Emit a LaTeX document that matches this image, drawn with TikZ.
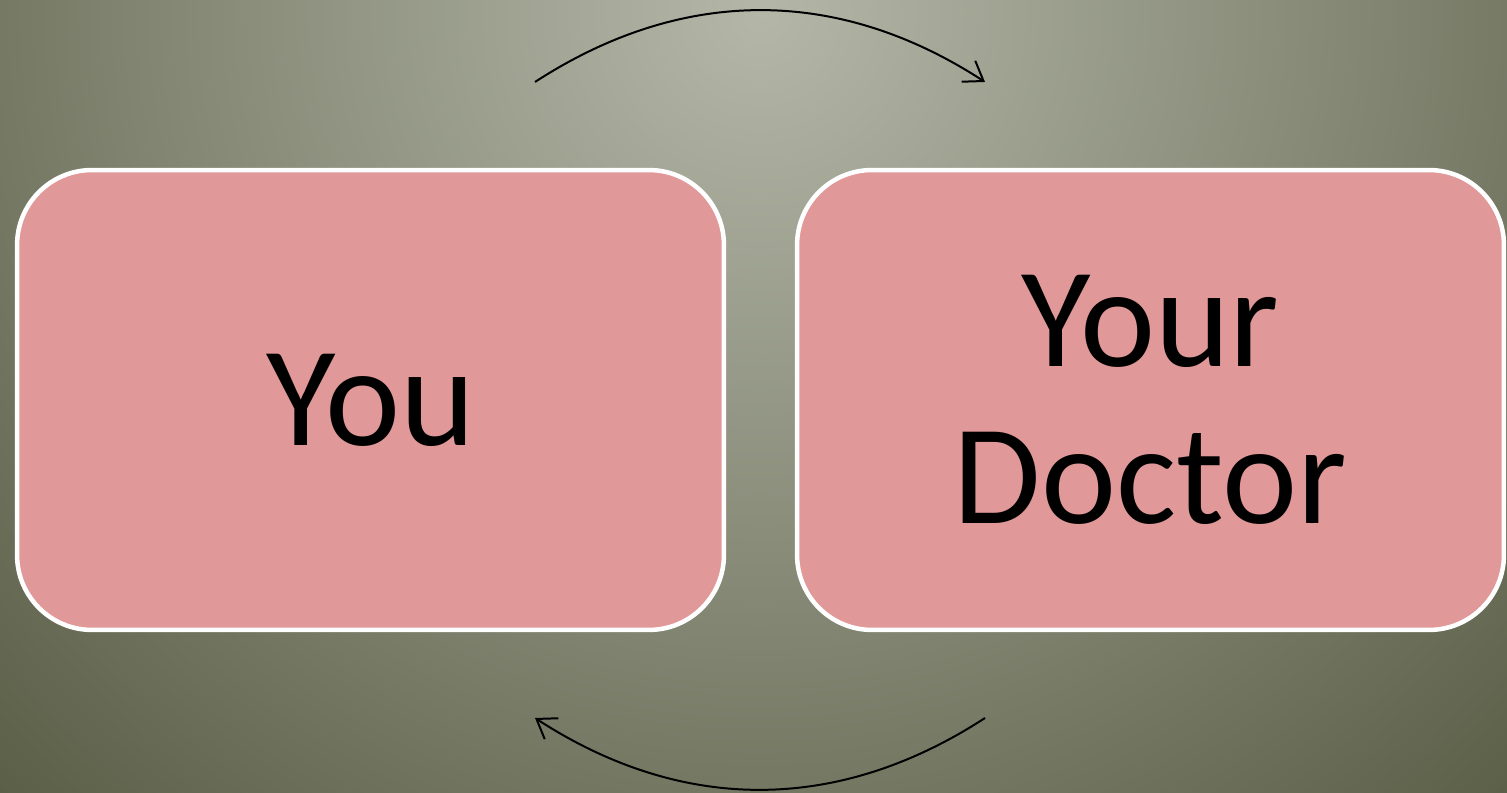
\documentclass[tikz,border=0pt]{standalone}
\usepackage{fontspec}
\setmainfont{Carlito}
\usetikzlibrary{arrows.meta}
\definecolor{bglight}{RGB}{180,183,168}
\definecolor{bgdark}{RGB}{86,90,66}
\definecolor{boxpink}{RGB}{224,152,152}
\tikzset{partybox/.style={draw=white,line width=0.09cm,fill=boxpink,rounded corners=1.5cm,
    minimum width=14.14cm,minimum height=9.2cm,inner sep=0pt,align=center,
    font=\fontsize{81}{89}\selectfont},
  cycarrow/.style={-{Straight Barb[length=0.36cm,width=0.5cm,line width=0.04cm]},line width=0.04cm,black}}

\begin{document}
\begin{tikzpicture}[x=0.02cm,y=0.02cm]
% --- background
\useasboundingbox (0,0) rectangle (1507,793);
\begin{scope}
\clip (0,0) rectangle (1507,793);
\shade[inner color=bglight,outer color=bgdark] (760,780) circle (1150);
\end{scope}
% --- the two parties
\node[partybox] (you) at (370.5,393) {You};
\node[partybox] (doctor) at (1150.5,393) {Your\\Doctor};
% --- cycle arrows
\coordinate (topl) at (535,711);
\coordinate (topr) at (985,711);
\coordinate (botr) at (985,75);
\coordinate (botl) at (535,75);
\draw[cycarrow] (topl) to[bend left=33] (topr);
\draw[cycarrow] (botr) to[bend left=33] (botl);
\end{tikzpicture}
\end{document}
